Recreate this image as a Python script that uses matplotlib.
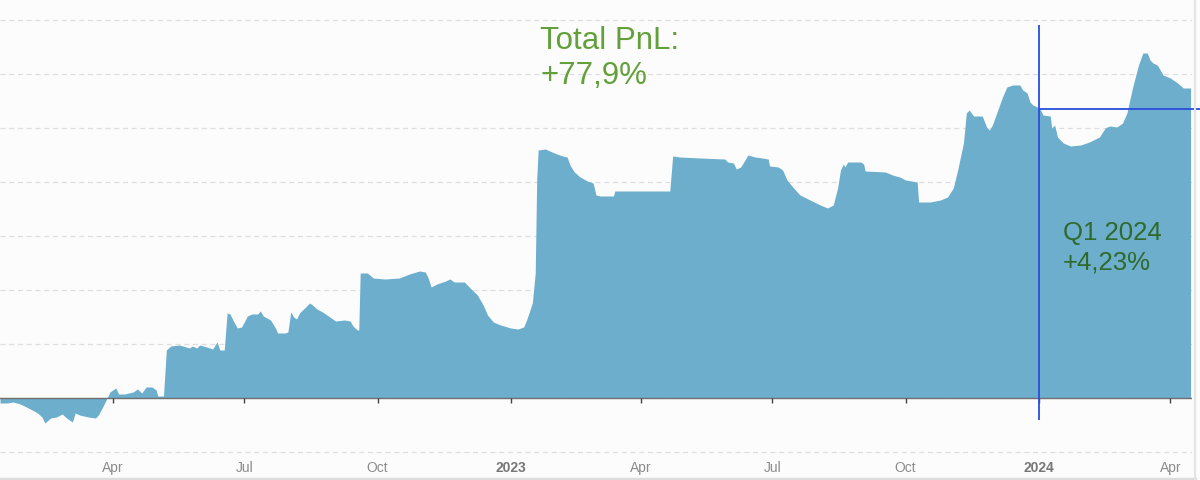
import numpy as np
import matplotlib
matplotlib.use("Agg")
import matplotlib.pyplot as plt
from matplotlib.lines import Line2D

plt.rcParams['font.family'] = ['Liberation Sans', 'DejaVu Sans']

START = np.datetime64('2022-01-13')

# days since START
days = [0, 5, 9, 14, 21, 26, 29, 31, 35, 39, 43, 46, 50, 52, 55, 61, 66, 68, 71, 74,
        76, 80, 82, 86, 92, 95, 98, 101, 105, 108, 109, 113, 115, 118, 124, 131, 133, 136, 138, 143,
        147, 150, 152, 155, 157, 159, 161, 164, 167, 171, 174, 178, 180, 182, 187, 190, 192, 197, 199, 201,
        203, 205, 207, 212, 214, 216, 219, 223, 228, 232, 238, 242, 244, 247, 248, 249, 254, 258, 266, 276,
        283, 290, 294, 296, 298, 302, 308, 311, 314, 321, 325, 330, 334, 337, 341, 346, 353, 358, 362, 364,
        368, 370, 371, 372, 377, 380, 385, 389, 392, 394, 397, 401, 406, 410, 412, 415, 424, 425, 463, 465,
        470, 484, 501, 503, 507, 509, 512, 515, 517, 522, 527, 531, 532, 538, 541, 544, 548, 553, 560, 567,
        572, 576, 579, 581, 583, 584, 586, 595, 597, 598, 612, 617, 622, 626, 634, 635, 643, 650, 655, 659,
        662, 666, 668, 670, 673, 679, 682, 684, 686, 689, 693, 696, 700, 705, 707, 710, 712, 714, 717, 719,
        721, 726, 727, 729, 731, 735, 740, 747, 753, 760, 764, 767, 772, 776, 779, 783, 787, 790, 793, 795,
        797, 800, 804, 809, 814, 818, 823]

# cumulative PnL, %
pnl = [-1.25, -1.25, -1.0, -1.5, -2.75, -3.75, -4.75, -6.25, -5.0, -4.75, -4.0, -5.0, -6.0, -3.75, -4.25, -4.75, -5.0, -4.25, -2.25, 0.0,
       1.5, 2.5, 1.0, 1.0, 1.5, 2.25, 1.25, 2.75, 2.75, 2.0, 0.5, 0.5, 12.0, 13.0, 13.25, 12.5, 13.0, 12.5, 13.25, 12.75,
       12.25, 14.0, 12.0, 12.0, 21.25, 21.0, 19.5, 17.5, 17.75, 20.5, 21.0, 21.0, 21.75, 20.5, 19.5, 17.75, 16.25, 16.25, 16.5, 21.5,
       20.25, 19.75, 21.25, 23.0, 23.75, 23.25, 22.25, 21.5, 20.25, 19.25, 19.5, 19.25, 18.0, 17.0, 17.0, 31.25, 31.25, 30.0, 29.75, 30.0,
       31.0, 31.75, 31.5, 30.0, 27.75, 28.5, 29.25, 29.75, 29.0, 29.0, 27.5, 25.75, 23.25, 20.75, 19.0, 18.25, 17.5, 17.25, 17.75, 19.5,
       23.75, 31.25, 54.5, 62.0, 62.25, 61.75, 61.0, 60.5, 60.25, 58.25, 56.5, 55.25, 54.25, 53.75, 50.75, 50.5, 50.5, 51.75, 51.75, 60.5,
       60.25, 60.0, 59.75, 59.0, 58.75, 57.25, 57.75, 59.5, 60.75, 60.25, 60.0, 59.75, 58.0, 57.75, 57.0, 54.5, 52.75, 50.75, 49.5, 48.25,
       47.5, 48.25, 52.5, 57.0, 58.5, 57.75, 59.0, 59.0, 58.5, 56.75, 56.5, 55.75, 55.25, 54.5, 54.0, 49.0, 49.0, 49.5, 50.25, 52.5,
       57.0, 63.75, 71.25, 72.0, 70.5, 70.5, 67.75, 67.0, 68.25, 71.25, 75.25, 77.75, 78.25, 78.25, 77.0, 76.25, 74.0, 73.25, 72.75, 72.25,
       70.75, 70.5, 67.5, 68.25, 65.25, 63.75, 63.0, 63.25, 64.0, 65.25, 67.5, 68.0, 67.75, 68.75, 71.25, 77.75, 83.25, 86.25, 86.25, 84.5,
       83.75, 83.25, 80.75, 80.0, 78.75, 77.5, 77.5]

tick_dates = ['2022-04-01', '2022-07-01', '2022-10-01', '2023-01-01', '2023-04-01',
              '2023-07-01', '2023-10-01', '2024-01-01', '2024-04-01']
tick_labels = ['Apr', 'Jul', 'Oct', '2023', 'Apr', 'Jul', 'Oct', '2024', 'Apr']

q1_date = np.datetime64('2024-01-01')
q1_start = 72.25
total_text = "Total PnL:\n+77,9%"
q1_text = "Q1 2024\n+4,23%"

dates = START + np.array(days).astype('timedelta64[D]')
ticks = np.array(tick_dates, dtype='datetime64[D]')

fig = plt.figure(figsize=(12, 4.8), dpi=100, facecolor='#fcfcfc')
ax = fig.add_axes([0, 22 / 480, 1192 / 1200, 458 / 480], facecolor='#fcfcfc')

ax.fill_between(dates, pnl, 0, color='#6daecd', lw=0, zorder=2)

ax.set_xlim(START, START + np.timedelta64(824, 'D'))
ax.set_ylim(-15, 99.5)

# dashed grid
ax.set_yticks(np.arange(-13.5, 99, 13.5))
ax.yaxis.grid(True, color='#dedede', linestyle=(0, (4, 3)), lw=0.9, zorder=1)
ax.tick_params(axis='y', left=False, labelleft=False)

# x axis line at zero with small ticks
ax.axhline(0, color='#707070', lw=1, zorder=3)
ax.vlines(ticks, -1.25, 0, color='#444444', lw=1, zorder=3)

ax.set_xticks(ticks)
ax.set_xticklabels(tick_labels)
ax.tick_params(axis='x', length=0, pad=2, labelsize=10, labelcolor='#8c8c8c')
for lbl in ax.get_xticklabels():
    if lbl.get_text().isdigit():
        lbl.set_fontweight('bold')
        lbl.set_color('#777777')

for s in ax.spines.values():
    s.set_visible(False)

# Q1 markers
ax.vlines(q1_date, -5.5, 93.25, color='#2a4de0', lw=1.3, zorder=4)
ax.axhline(q1_start, xmin=719 / 824, xmax=1200 / 1192, color='#2a4de0', lw=1.3,
           zorder=4, clip_on=False)

ax.text(540 / 1192, 1 - 26 / 458, total_text, transform=ax.transAxes, va='top', ha='left',
        fontsize=22.5, color='#62a03a', linespacing=1.22, zorder=5)
ax.text(1063 / 1192, 1 - 221 / 458, q1_text, transform=ax.transAxes, va='top', ha='left',
        fontsize=18.5, color='#2e6a2c', linespacing=1.27, zorder=5)

# chart frame
fig.add_artist(Line2D([0, 1195 / 1200], [1.5 / 480, 1.5 / 480], transform=fig.transFigure,
                      color='#dcdcdc', lw=2.5))
fig.add_artist(Line2D([1195 / 1200, 1195 / 1200], [0, 1], transform=fig.transFigure,
                      color='#e4e4e4', lw=1.5))

fig.savefig('out.png', dpi=100, facecolor=fig.get_facecolor())
